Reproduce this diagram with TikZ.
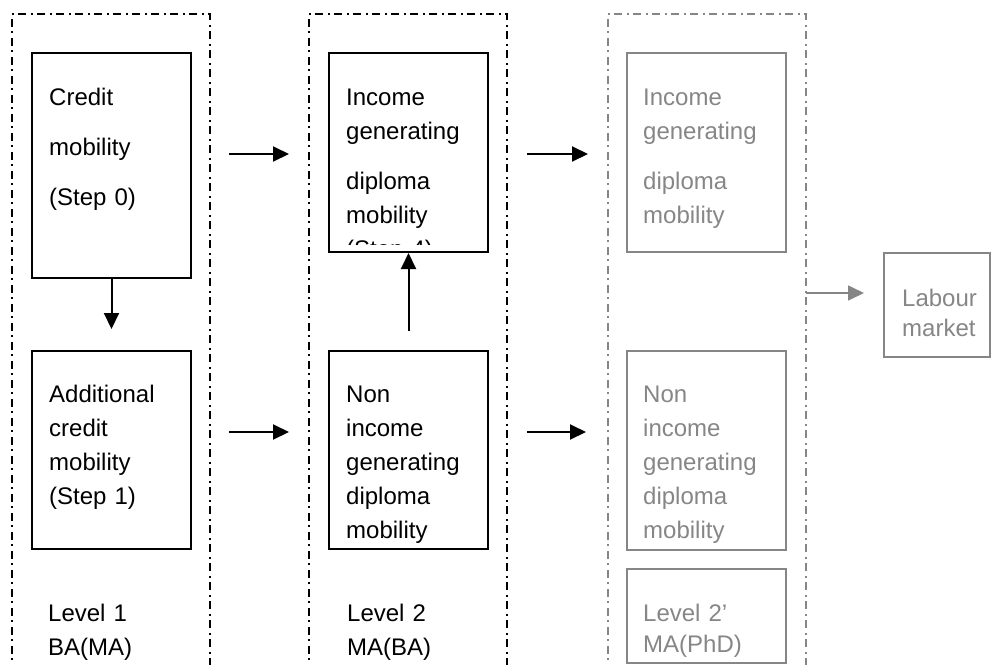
\documentclass[tikz,border=0pt]{standalone}
\usepackage{fontspec}
\setmainfont{Liberation Sans}
\usetikzlibrary{arrows.meta,positioning}
\definecolor{fade}{HTML}{868686}
\tikzset{
  frame/.style={draw, rectangle, line width=2pt, dash pattern=on 8pt off 4pt on 2pt off 5pt, minimum width=198pt, minimum height=720pt, inner sep=0pt},
  box/.style={draw, rectangle, line width=2pt, minimum width=159pt, inner sep=0pt},
  txt/.style={anchor=base west, text width=135pt, align=left, inner sep=0pt, font=\fontsize{24}{34}\selectfont},
  arr/.style={-{Triangle[length=16pt,width=15pt]}, line width=2pt},
  faded/.style={draw=fade, text=fade}
}

\begin{document}
\begin{tikzpicture}[x=1pt,y=-1pt]
\useasboundingbox (0,0) rectangle (992,664);
\clip (0,0) rectangle (992,664);

% level columns
\node[frame] (f1) at (111,374) {};
\node[frame] (f2) at (408,374) {};
\node[frame, draw=fade] (f3) at (706.5,374) {};

% level 1
\node[box, minimum height=225pt] (c1) at (111.5,165.5) {};
\node[box, minimum height=198pt] (a1) at (111.5,450) {};
\node[txt] (c1t) at ([xshift=18pt,yshift=-53pt]c1.north west) {Credit\\[16pt]mobility\\[16pt](Step 0)};
\node[txt] (a1t) at ([xshift=18pt,yshift=-52pt]a1.north west) {Additional\\credit\\mobility\\(Step 1)};
\node[txt] (l1) at (48,621) {Level 1\\BA(MA)};

% level 2
\node[box, minimum height=199pt] (i2) at (408.5,152.5) {};
\node[box, minimum height=198pt] (n2) at (408.5,450) {};
\begin{scope}
  \clip (i2.north west) rectangle ([yshift=9pt]i2.south east);
  \node[txt] (i2t) at ([xshift=18pt,yshift=-53pt]i2.north west) {Income\\generating\\[16pt]diploma\\mobility\\(Step 4)};
\end{scope}
\node[txt] (n2t) at ([xshift=18pt,yshift=-52pt]n2.north west) {Non\\income\\generating\\diploma\\mobility};
\node[txt] (l2) at (347,621) {Level 2\\MA(BA)};

% level 2'
\node[box, faded, minimum height=199pt] (i3) at (706.5,152.5) {};
\node[box, faded, minimum height=199pt] (n3) at (706.5,450.5) {};
\node[box, faded, minimum height=94pt] (l3) at (706.5,616) {};
\node[txt, text=fade] (i3t) at ([xshift=17pt,yshift=-53pt]i3.north west) {Income\\generating\\[16pt]diploma\\mobility};
\node[txt, text=fade] (n3t) at ([xshift=17pt,yshift=-52pt]n3.north west) {Non\\income\\generating\\diploma\\mobility};
\node[txt, text=fade] (l3t) at ([xshift=17pt,yshift=-53pt]l3.north west) {Level 2’\\[-3pt]MA(PhD)};

% labour market
\node[box, faded, minimum width=106pt, minimum height=104pt] (lm) at (937,305) {};
\node[txt, text=fade] (lmt) at ([xshift=19pt,yshift=-54pt]lm.north west) {Labour\\[-4pt]market};

% arrows between levels
\coordinate (p1) at (229,154); \coordinate (q1) at (289,154);
\coordinate (p2) at (527,154); \coordinate (q2) at (588,154);
\coordinate (p3) at (229,432); \coordinate (q3) at (289,432);
\coordinate (p4) at (527,432); \coordinate (q4) at (586,432);
\coordinate (p5) at (806,293); \coordinate (q5) at (864,293);
\foreach \s/\t in {p1/q1,p2/q2,p3/q3,p4/q4} \draw[arr] (\s) -- (\t);
\draw[arr, fade, line width=1.6pt] (p5) -- (q5);

\draw[arr, shorten >=21pt] (c1) -- (a1);
\draw[arr, shorten <=19pt] (n2) -- (i2);
\end{tikzpicture}
\end{document}
